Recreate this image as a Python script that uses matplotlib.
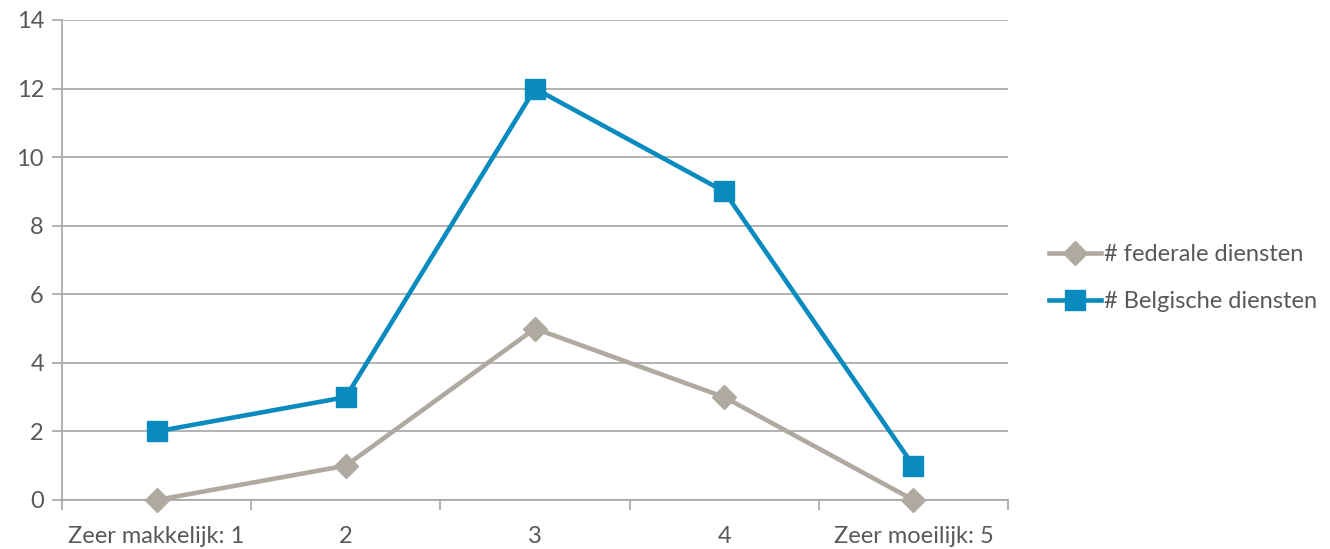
import numpy as np
import matplotlib.pyplot as plt
from matplotlib.ticker import FixedLocator

categories = ["Zeer makkelijk: 1", "2", "3", "4", "Zeer moeilijk: 5"]
federale = [0, 1, 5, 3, 0]
belgische = [2, 3, 12, 9, 1]

plt.rcParams['font.family'] = ['Lato', 'DejaVu Sans']
text_col = "#595959"
grid_col = "#A6A6A6"
fs = 17

fig = plt.figure(figsize=(13.3, 5.49), dpi=100)
ax = fig.add_axes([62 / 1330, 1 - 500 / 549, (1008 - 62) / 1330, 480 / 549])

x = np.arange(len(categories))
ax.plot(x, federale, color="#B0A99F", lw=3.3, marker="D", ms=12,
        label="# federale diensten", zorder=3, clip_on=False)
ax.plot(x, belgische, color="#0A8BBF", lw=3.3, marker="s", ms=14,
        label="# Belgische diensten", zorder=4, clip_on=False)

ax.set_xlim(-0.5, len(categories) - 0.5)
ax.set_ylim(0, 14)
ax.set_yticks(range(0, 15, 2))
ax.yaxis.grid(True, color=grid_col, lw=1.2)
ax.set_axisbelow(True)

ax.set_xticks(x)
ax.set_xticklabels(categories)
ax.xaxis.set_minor_locator(FixedLocator(np.arange(-0.5, len(categories), 1)))
ax.tick_params(axis='x', which='major', length=0, pad=19, labelsize=fs, labelcolor=text_col)
ax.tick_params(axis='x', which='minor', length=7, width=1.2, color=grid_col)
ax.tick_params(axis='y', length=7, width=1.2, color=grid_col, pad=6, labelsize=fs, labelcolor=text_col)

for s in ['top', 'right']:
    ax.spines[s].set_visible(False)
for s in ['left', 'bottom']:
    ax.spines[s].set_color(grid_col)
    ax.spines[s].set_linewidth(1.2)

leg = fig.legend(loc="center left", bbox_to_anchor=(1028 / 1330, 1 - 278 / 549),
                 frameon=False, fontsize=fs, handlelength=2.2, handletextpad=0.1,
                 labelspacing=1.1, labelcolor=text_col)

fig.savefig("out.png", dpi=100)
